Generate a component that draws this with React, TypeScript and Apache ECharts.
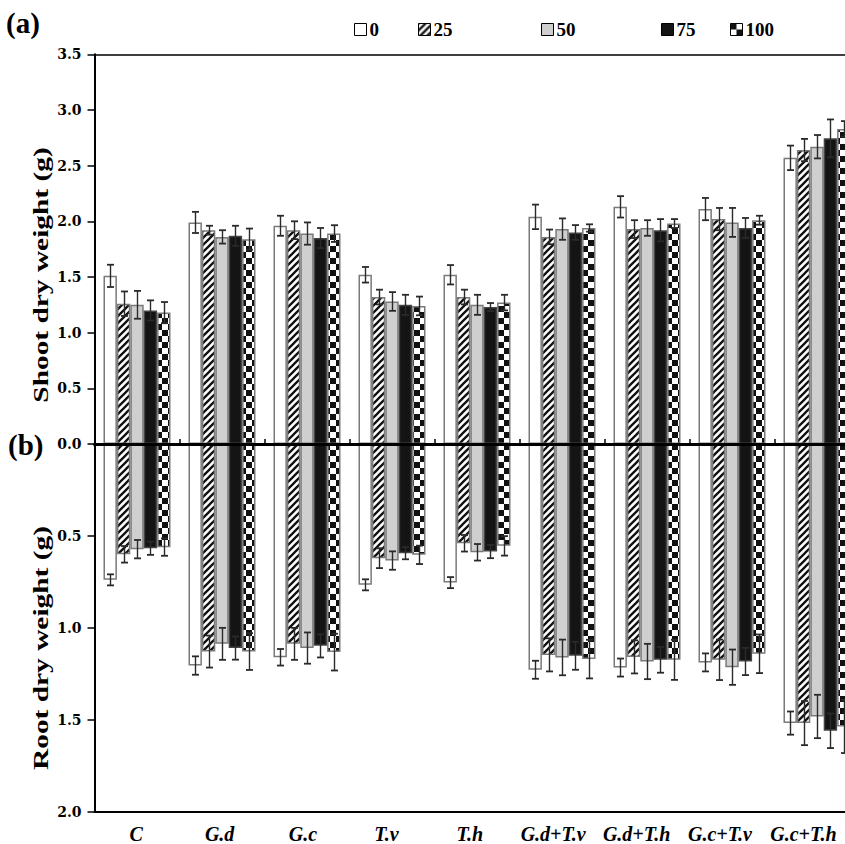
import React, { useEffect, useRef } from 'react';
import * as echarts from 'echarts';

const categories = ['C', 'G.d', 'G.c', 'T.v', 'T.h', 'G.d+T.v', 'G.d+T.h', 'G.c+T.v', 'G.c+T.h'];
const treatments = ['0', '25', '50', '75', '100'];

const shoot0 = [1.51, 1.99, 1.96, 1.52, 1.52, 2.04, 2.13, 2.11, 2.57];
const shoot25 = [1.26, 1.92, 1.92, 1.32, 1.32, 1.86, 1.93, 2.02, 2.64];
const shoot50 = [1.25, 1.86, 1.89, 1.28, 1.25, 1.93, 1.94, 1.99, 2.67];
const shoot75 = [1.2, 1.87, 1.85, 1.25, 1.23, 1.9, 1.92, 1.94, 2.745];
const shoot100 = [1.18, 1.84, 1.89, 1.24, 1.27, 1.94, 1.98, 2.01, 2.83];

const shootErr0 = [0.1, 0.095, 0.09, 0.07, 0.087, 0.11, 0.096, 0.1, 0.11];
const shootErr25 = [0.11, 0.04, 0.08, 0.066, 0.066, 0.066, 0.08, 0.1, 0.1];
const shootErr50 = [0.125, 0.06, 0.1, 0.084, 0.09, 0.096, 0.07, 0.13, 0.105];
const shootErr75 = [0.09, 0.09, 0.09, 0.09, 0.036, 0.066, 0.1, 0.09, 0.17];
const shootErr100 = [0.095, 0.095, 0.075, 0.084, 0.07, 0.033, 0.04, 0.04, 0.07];

const root0 = [0.739, 1.205, 1.16, 0.766, 0.754, 1.228, 1.216, 1.188, 1.518];
const root25 = [0.6, 1.129, 1.087, 0.621, 0.54, 1.147, 1.158, 1.174, 1.518];
const root50 = [0.572, 1.087, 1.11, 0.634, 0.589, 1.161, 1.183, 1.214, 1.482];
const root75 = [0.567, 1.11, 1.098, 0.594, 0.585, 1.152, 1.174, 1.183, 1.56];
const root100 = [0.561, 1.129, 1.132, 0.603, 0.554, 1.17, 1.174, 1.141, 1.536];

const rootErr0 = [0.03, 0.05, 0.045, 0.03, 0.03, 0.049, 0.049, 0.049, 0.063];
const rootErr25 = [0.045, 0.087, 0.087, 0.054, 0.045, 0.09, 0.09, 0.11, 0.12];
const rootErr50 = [0.05, 0.087, 0.085, 0.05, 0.045, 0.097, 0.096, 0.096, 0.118];
const rootErr75 = [0.036, 0.063, 0.063, 0.033, 0.036, 0.076, 0.07, 0.074, 0.094];
const rootErr100 = [0.047, 0.1, 0.1, 0.05, 0.053, 0.105, 0.109, 0.105, 0.145];

const shootTicks = { min: 0, max: 3.5, interval: 0.5 };
const rootTicks = { min: 0, max: 2, interval: 0.5 };

const shootValues = [shoot0, shoot25, shoot50, shoot75, shoot100];
const shootErrors = [shootErr0, shootErr25, shootErr50, shootErr75, shootErr100];
const rootValues = [root0, root25, root50, root75, root100];
const rootErrors = [rootErr0, rootErr25, rootErr50, rootErr75, rootErr100];

const legendLeft = [349, 413, 536, 656, 725];

const GRID_LEFT = 94.5;
const GRID_W = 765;
const LABEL_W = 750.6;
const BAR_W = 13.4;
const TOP_Y = 54.3;
const ZERO_Y = 444;
const BOTTOM_Y = 811.7;

function makePattern(kind: string) {
  const c = document.createElement('canvas');
  const g = c.getContext('2d') as CanvasRenderingContext2D;
  if (kind === 'hatch') {
    c.width = 7;
    c.height = 7;
    g.fillStyle = '#fff';
    g.fillRect(0, 0, 7, 7);
    g.strokeStyle = '#111';
    g.lineWidth = 2.3;
    g.beginPath();
    g.moveTo(-1, 8);
    g.lineTo(8, -1);
    g.moveTo(-1, 1);
    g.lineTo(1, -1);
    g.moveTo(6, 8);
    g.lineTo(8, 6);
    g.stroke();
  } else {
    c.width = 12;
    c.height = 12;
    g.fillStyle = '#fff';
    g.fillRect(0, 0, 12, 12);
    g.fillStyle = '#111';
    g.fillRect(0, 0, 6, 6);
    g.fillRect(6, 6, 6, 6);
  }
  return { image: c.toDataURL(), repeat: 'repeat', imageWidth: c.width, imageHeight: c.height } as any;
}

export default function App() {
  const ref = useRef<HTMLDivElement>(null);
  useEffect(() => {
    if (!ref.current) return;
    const chart = echarts.init(ref.current, undefined, { renderer: 'svg' });
    const fills: any[] = ['#ffffff', makePattern('hatch'), '#cfcfcf', '#141414', makePattern('check')];
    const borders = ['#7a7a7a', '#7a7a7a', '#7a7a7a', '#444', '#7a7a7a'];

    const tickLabel = {
      color: '#000',
      fontFamily: 'DejaVu Serif',
      fontWeight: 'bold',
      fontSize: 14,
      margin: 13,
      formatter: (v: number) => v.toFixed(1),
    };

    const series: any[] = [];
    treatments.forEach((t, k) => {
      series.push({
        name: t,
        type: 'bar',
        xAxisIndex: 0,
        yAxisIndex: 0,
        barWidth: BAR_W,
        barGap: '0%',
        data: shootValues[k],
        itemStyle: { color: fills[k], borderColor: borders[k], borderWidth: 1.5 },
        z: 2,
      });
    });
    treatments.forEach((t, k) => {
      series.push({
        name: t,
        type: 'bar',
        xAxisIndex: 2,
        yAxisIndex: 1,
        barWidth: BAR_W,
        barGap: '0%',
        data: rootValues[k],
        itemStyle: { color: fills[k], borderColor: borders[k], borderWidth: 1.5 },
        z: 2,
      });
    });

    const errRender = (params: any, api: any) => {
      const c = api.value(0);
      const v = api.value(1);
      const e = api.value(2);
      const k = api.value(3);
      const p0 = api.coord([c, v - e]);
      const p1 = api.coord([c, v + e]);
      const x = Math.round(p0[0] + (k - 2) * BAR_W) + 0.5;
      const style = { stroke: '#2a2a2a', lineWidth: 1.4 };
      return {
        type: 'group',
        children: [
          { type: 'line', shape: { x1: x, y1: p0[1], x2: x, y2: p1[1] }, style },
          { type: 'line', shape: { x1: x - 3.5, y1: p0[1], x2: x + 3.5, y2: p0[1] }, style: { stroke: '#2a2a2a', lineWidth: 1.8 } },
          { type: 'line', shape: { x1: x - 3.5, y1: p1[1], x2: x + 3.5, y2: p1[1] }, style: { stroke: '#2a2a2a', lineWidth: 1.8 } },
        ],
      };
    };
    const shootErrData: number[][] = [];
    const rootErrData: number[][] = [];
    for (let k = 0; k < 5; k++) {
      for (let i = 0; i < categories.length; i++) {
        shootErrData.push([i, shootValues[k][i], shootErrors[k][i], k]);
        rootErrData.push([i, rootValues[k][i], rootErrors[k][i], k]);
      }
    }
    series.push({
      type: 'custom',
      xAxisIndex: 0,
      yAxisIndex: 0,
      renderItem: errRender,
      data: shootErrData,
      encode: { x: 0, y: 1 },
      z: 5,
      silent: true,
    });
    series.push({
      type: 'custom',
      xAxisIndex: 2,
      yAxisIndex: 1,
      renderItem: errRender,
      data: rootErrData,
      encode: { x: 0, y: 1 },
      z: 5,
      silent: true,
    });

    const legends = treatments.map((t, k) => ({
      data: [t],
      left: legendLeft[k],
      top: 15,
      itemWidth: 12,
      itemHeight: 12,
      itemGap: 0,
      icon: 'rect',
      itemStyle: { borderColor: '#000', borderWidth: 1 },
      textStyle: { color: '#000', fontFamily: 'Liberation Serif', fontWeight: 'bold', fontSize: 19, padding: [0, 0, 0, -2] },
      selectedMode: false,
    }));

    const option: any = {
      animation: false,
      backgroundColor: '#fff',
      legend: legends,
      grid: [
        { left: GRID_LEFT, top: TOP_Y, width: GRID_W, height: ZERO_Y - TOP_Y },
        { left: GRID_LEFT, top: ZERO_Y, width: GRID_W, height: BOTTOM_Y - ZERO_Y },
        { left: GRID_LEFT, top: BOTTOM_Y - 1, width: LABEL_W, height: 1 },
      ],
      xAxis: [
        {
          type: 'category',
          gridIndex: 0,
          data: categories,
          position: 'bottom',
          z: 10,
          axisLine: { lineStyle: { color: '#000', width: 3 } },
          axisTick: { show: true, inside: true, length: 5, alignWithLabel: false, lineStyle: { color: '#000', width: 1.5 } },
          axisLabel: { show: false },
        },
        {
          type: 'category',
          gridIndex: 0,
          data: categories,
          position: 'top',
          axisLine: { lineStyle: { color: '#000', width: 1.5 } },
          axisTick: { show: false },
          axisLabel: { show: false },
        },
        {
          type: 'category',
          gridIndex: 1,
          data: categories,
          position: 'bottom',
          axisLine: { onZero: false, lineStyle: { color: '#000', width: 2 } },
          axisTick: { show: false },
          axisLabel: { show: false },
        },
        {
          type: 'category',
          gridIndex: 2,
          data: categories,
          position: 'bottom',
          axisLine: { show: false, onZero: false },
          axisTick: { show: false },
          axisLabel: {
            interval: 0,
            color: '#000',
            fontFamily: 'Liberation Serif',
            fontStyle: 'italic',
            fontWeight: 'bold',
            fontSize: 20,
            margin: 13,
          },
        },
      ],
      yAxis: [
        {
          type: 'value',
          gridIndex: 0,
          min: shootTicks.min,
          max: shootTicks.max,
          interval: shootTicks.interval,
          axisLine: { show: true, lineStyle: { color: '#000', width: 2 } },
          axisTick: { show: true, length: 7, lineStyle: { color: '#000', width: 1.5 } },
          axisLabel: tickLabel,
          splitLine: { show: false },
        },
        {
          type: 'value',
          gridIndex: 1,
          inverse: true,
          min: rootTicks.min,
          max: rootTicks.max,
          interval: rootTicks.interval,
          axisLine: { show: true, lineStyle: { color: '#000', width: 2 } },
          axisTick: { show: true, length: 7, lineStyle: { color: '#000', width: 1.5 } },
          axisLabel: { ...tickLabel, showMinLabel: false },
          splitLine: { show: false },
        },
        {
          type: 'value',
          gridIndex: 2,
          show: false,
          min: 0,
          max: 1,
        },
      ],
      graphic: [
        {
          type: 'text',
          left: 6,
          top: 8,
          style: { text: '(a)', fill: '#000', font: 'bold 29px "Liberation Serif"' },
        },
        {
          type: 'text',
          left: 8,
          top: 430,
          style: { text: '(b)', fill: '#000', font: 'bold 29px "Liberation Serif"' },
        },
        {
          type: 'text',
          x: 41,
          y: 275,
          rotation: Math.PI / 2,
          scaleX: 1.47,
          style: {
            text: 'Shoot dry weight (g)',
            fill: '#000',
            font: 'bold 20px "Liberation Serif"',
            align: 'center',
            verticalAlign: 'middle',
          },
        },
        {
          type: 'text',
          x: 41,
          y: 648,
          rotation: Math.PI / 2,
          scaleX: 1.47,
          style: {
            text: 'Root dry weight (g)',
            fill: '#000',
            font: 'bold 20px "Liberation Serif"',
            align: 'center',
            verticalAlign: 'middle',
          },
        },
      ],
      series,
    };
    chart.setOption(option);
    return () => chart.dispose();
  }, []);

  return (
    <div style={{ position: 'absolute', left: 0, top: 0, width: 845, height: 844, overflow: 'hidden', background: '#fff' }}>
      <div ref={ref} style={{ width: 880, height: 844 }} />
    </div>
  );
}
